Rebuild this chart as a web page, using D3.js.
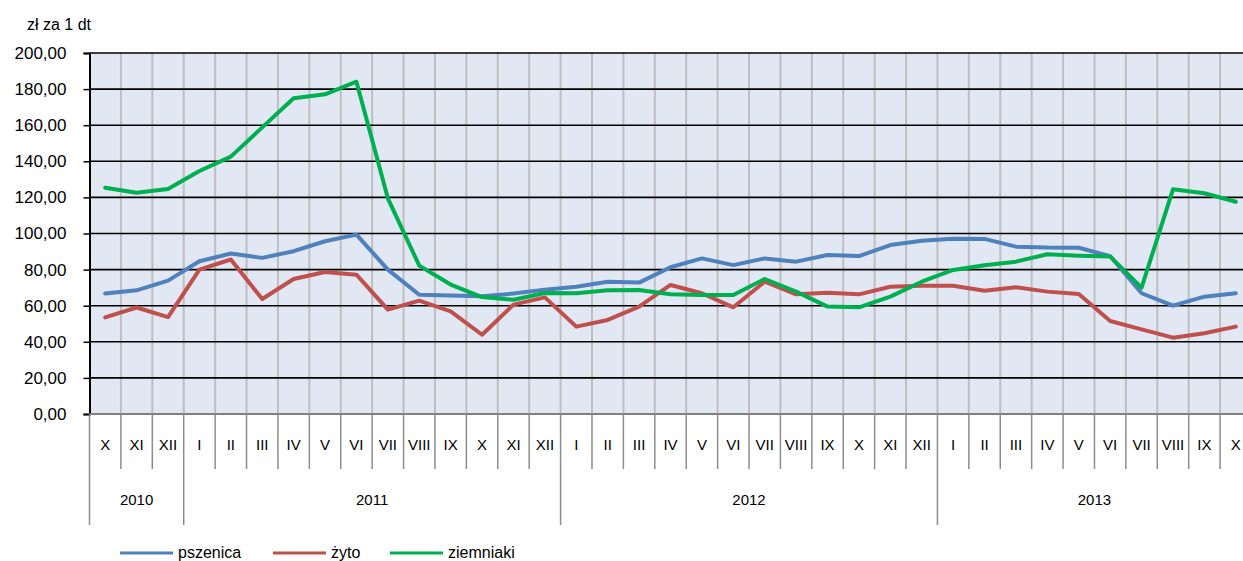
<!DOCTYPE html>
<html>
<head>
<meta charset="utf-8">
<script src="https://cdn.jsdelivr.net/npm/d3@7"></script>
<style>
  body { margin: 0; background: #fff; }
  svg { display: block; font-family: "Liberation Sans", Arial, sans-serif; }
</style>
</head>
<body>
<svg id="chart" width="1243" height="561"></svg>
<script>
// month labels, X 2010 .. X 2013
let months = ["X", "XI", "XII",
  "I", "II", "III", "IV", "V", "VI", "VII", "VIII", "IX", "X", "XI", "XII",
  "I", "II", "III", "IV", "V", "VI", "VII", "VIII", "IX", "X", "XI", "XII",
  "I", "II", "III", "IV", "V", "VI", "VII", "VIII", "IX", "X"];

// year groups: label, first month index, month count
let years = [
  { label: "2010", start: 0, n: 3 },
  { label: "2011", start: 3, n: 12 },
  { label: "2012", start: 15, n: 12 },
  { label: "2013", start: 27, n: 10 },
];

let pszenica = [66.7, 68.5, 73.9, 84.6, 88.9, 86.5, 90.2, 95.7, 99.4, 80.0, 66.1, 65.6, 65.2,
  66.7, 68.9, 70.5, 73.3, 72.8, 81.3, 86.2, 82.5, 86.2, 84.4, 88.1, 87.5, 93.6, 96.0, 97.1,
  97.0, 92.7, 92.2, 92.1, 87.5, 66.9, 60.0, 65.0, 66.9];
let zyto = [53.5, 59.0, 53.7, 80.0, 85.6, 63.7, 74.8, 78.7, 77.2, 57.8, 62.8, 56.9, 43.9,
  60.6, 64.6, 48.4, 52.1, 59.5, 71.5, 66.9, 59.1, 73.3, 66.3, 67.2, 66.3, 70.5, 71.1, 71.0,
  68.3, 70.2, 67.8, 66.5, 51.5, 46.9, 42.3, 44.7, 48.4];
let ziemniaki = [125.4, 122.6, 124.7, 134.6, 142.6, 158.8, 174.9, 177.1, 184.1, 119.5, 82.2,
  71.7, 64.8, 63.3, 67.0, 66.9, 68.5, 68.7, 66.3, 65.9, 65.9, 74.8, 67.8, 59.5, 59.1, 65.0,
  73.3, 79.8, 82.4, 84.4, 88.5, 87.7, 87.2, 70.0, 124.5, 122.3, 117.6];

let yTicks = [0, 20, 40, 60, 80, 100, 120, 140, 160, 180, 200];

let series = [
  { name: "pszenica", values: pszenica, color: "#4f81bd" },
  { name: "żyto", values: zyto, color: "#c0504d" },
  { name: "ziemniaki", values: ziemniaki, color: "#00b050" },
];

var svg = d3.select("#chart");

var plotLeft = 89.5, plotRight = 1251.5, plotTop = 53, plotBottom = 414;

var x = d3.scaleBand().domain(d3.range(months.length)).range([plotLeft, plotRight]).padding(0);
var y = d3.scaleLinear().domain([0, 200]).range([plotBottom, plotTop]);

// plot background
svg.append("rect")
  .attr("x", plotLeft).attr("y", plotTop)
  .attr("width", plotRight - plotLeft).attr("height", plotBottom - plotTop)
  .style("fill", "#e1e7f3");

// vertical grid lines (category boundaries)
svg.append("g")
  .selectAll("line")
  .data(d3.range(1, months.length))
  .join("line")
  .attr("x1", (d) => x(d)).attr("x2", (d) => x(d))
  .attr("y1", plotTop).attr("y2", plotBottom)
  .style("stroke", "#bfbfbf")
  .style("stroke-width", 2);

// horizontal grid lines
svg.append("g")
  .selectAll("line")
  .data(yTicks.filter((d) => d > 0))
  .join("line")
  .attr("x1", plotLeft).attr("x2", plotRight)
  .attr("y1", (d) => y(d)).attr("y2", (d) => y(d))
  .style("stroke", "#000")
  .style("stroke-width", 1.6);

// y axis
var yAxis = svg.append("g")
  .attr("transform", `translate(${plotLeft},0)`)
  .call(d3.axisLeft(y).tickValues(yTicks).tickSize(6).tickPadding(17)
    .tickFormat((d) => d3.format(".2f")(d).replace(".", ",")));
yAxis.select(".domain").style("stroke", "#000").style("stroke-width", 2);
yAxis.selectAll(".tick line").style("stroke", "#000").style("stroke-width", 1.5);
yAxis.selectAll("text")
  .style("font-size", "17px")
  .style("fill", "#000")
  .style("font-family", "Liberation Sans, Arial, sans-serif");

// category axis line
svg.append("line")
  .attr("x1", plotLeft).attr("x2", plotRight)
  .attr("y1", plotBottom).attr("y2", plotBottom)
  .style("stroke", "#808080")
  .style("stroke-width", 2);

// month separators below axis
svg.append("g")
  .selectAll("line")
  .data(d3.range(0, months.length))
  .join("line")
  .attr("x1", (d) => x(d))
  .attr("x2", (d) => x(d))
  .attr("y1", plotBottom)
  .attr("y2", (d) => (years.some((yr) => yr.start === d) ? 525 : 469))
  .style("stroke", "#8c8c8c")
  .style("stroke-width", 1.5);

// month labels
svg.append("g")
  .selectAll("text")
  .data(months)
  .join("text")
  .attr("x", (d, i) => x(i) + x.bandwidth() / 2)
  .attr("y", 450)
  .attr("text-anchor", "middle")
  .style("font-size", "15px")
  .text((d) => d);

// year labels
svg.append("g")
  .selectAll("text")
  .data(years)
  .join("text")
  .attr("x", (d) => (x(d.start) + x(d.start + d.n - 1) + x.bandwidth()) / 2)
  .attr("y", 505)
  .attr("text-anchor", "middle")
  .style("font-size", "15px")
  .text((d) => d.label);

// series lines
var line = d3.line()
  .x((d, i) => x(i) + x.bandwidth() / 2)
  .y((d) => y(d));

series.forEach((s) => {
  svg.append("path")
    .datum(s.values)
    .attr("d", line)
    .style("fill", "none")
    .style("stroke", s.color)
    .style("stroke-width", 4)
    .style("stroke-linejoin", "round")
    .style("stroke-linecap", "round");
});

// unit title
svg.append("text")
  .attr("x", 27)
  .attr("y", 30)
  .style("font-size", "16px")
  .text("zł za 1 dt");

// legend
var legendX = [120, 273, 390];
series.forEach((s, index) => {
  svg.append("line")
    .attr("x1", legendX[index]).attr("x2", legendX[index] + 53)
    .attr("y1", 553).attr("y2", 553)
    .style("stroke", s.color)
    .style("stroke-width", 3);
  svg.append("text")
    .attr("x", legendX[index] + 58)
    .attr("y", 558)
    .style("font-size", "16px")
    .text(s.name);
});
</script>
</body>
</html>
